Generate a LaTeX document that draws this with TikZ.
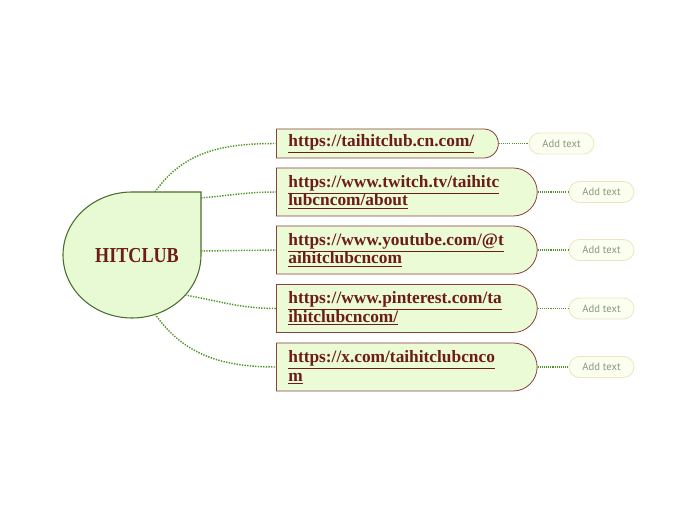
\documentclass[tikz,border=0pt]{standalone}
\usepackage{fontspec}
\setmainfont{Liberation Serif}
\newfontfamily\linkfont{Liberation Serif}
\newfontfamily\hubfont{Liberation Serif}[FakeStretch=0.85]
\newfontfamily\notefont{PT Sans}
\usetikzlibrary{shapes.misc,positioning}
\definecolor{HubFill}{HTML}{E8FAD4}
\definecolor{HubEdge}{HTML}{4A6E2C}
\definecolor{LeafFill}{HTML}{EAFBD6}
\definecolor{LeafEdge}{HTML}{8A3E3E}
\definecolor{LinkText}{HTML}{6E1B1B}
\definecolor{Twig}{HTML}{4F9424}
\definecolor{NoteFill}{HTML}{FAFFF0}
\definecolor{NoteEdge}{HTML}{EFE4BE}
\definecolor{NoteText}{HTML}{8E9484}
\tikzset{
  hubshape/.style={draw=HubEdge,fill=HubFill,line width=0.8pt},
  hub/.style={font=\hubfont\bfseries\fontsize{16}{18}\selectfont,text=LinkText},
  linkbox/.style={rounded rectangle,rounded rectangle left arc=none,draw=LeafEdge,
              fill=LeafFill,anchor=west,align=left,inner xsep=9pt,inner ysep=2pt,
              font=\linkfont\bfseries\fontsize{13}{14}\selectfont,text=LinkText,
              line width=0.6pt,minimum height=36pt,text width=172.5pt},
  notebox/.style={rounded rectangle,draw=NoteEdge,fill=NoteFill,line width=0.6pt,
              minimum width=48.75pt,minimum height=15.75pt,inner sep=0pt,
              font=\notefont\fontsize{8}{9}\selectfont,text=NoteText},
  branch/.style={draw=Twig,line width=1.1pt,dash pattern=on 1pt off 1pt},
  twig/.style={draw=Twig,line width=0.8pt,dash pattern=on 0.8pt off 0.8pt}
}
\begin{document}
\begin{tikzpicture}[x=0.75pt,y=-0.75pt]
  \useasboundingbox (0,0) rectangle (697,520);
  % central topic
  \draw[hubshape] (201,255) arc[start angle=0,end angle=-270,x radius=51.75pt,y radius=47.25pt]
    -- (201,192) -- cycle;
  \node[hub] (hub) at (137,256) {HITCLUB};
  \coordinate (hubN) at (155,192);
  \coordinate (hubNE) at (201,198);
  \coordinate (hubE) at (201,251);
  \coordinate (hubSE) at (185,295);
  \coordinate (hubS) at (155,314);

  % links
  \node[linkbox,text width=146pt,minimum height=21.75pt] (l1) at (276,143.5)
    {\underline{https://taihitclub.cn.com/}};
  \node[linkbox] (l2) at (276,192)
    {\underline{https://www.twitch.tv/taihitc}\\\underline{lubcncom/about}};
  \node[linkbox] (l3) at (276,250)
    {\underline{https://www.youtube.com/@t}\\\underline{aihitclubcncom}};
  \node[linkbox] (l4) at (276,308.5)
    {\underline{https://www.pinterest.com/ta}\\\underline{ihitclubcncom/}};
  \node[linkbox] (l5) at (276,367)
    {\underline{https://x.com/taihitclubcnco}\\\underline{m}};

  % notes
  \node[notebox] (n1) at (561.5,143.5) {Add text};
  \node[notebox] (n2) at (601.5,192) {Add text};
  \node[notebox] (n3) at (601.5,250) {Add text};
  \node[notebox] (n4) at (601.5,308.5) {Add text};
  \node[notebox] (n5) at (601.5,367) {Add text};

  \draw[branch] (hubN) to[out=55,in=180] (l1.west);
  \draw[branch] (hubNE) to[out=5,in=180] (l2.west);
  \draw[branch] (hubE) -- (l3.west);
  \draw[branch] (hubSE) to[out=-10,in=180] (l4.west);
  \draw[branch] (hubS) to[out=-55,in=180] (l5.west);
  \foreach \i in {1,...,5}
    \draw[twig] (l\i.east) -- (n\i.west);
\end{tikzpicture}
\end{document}
